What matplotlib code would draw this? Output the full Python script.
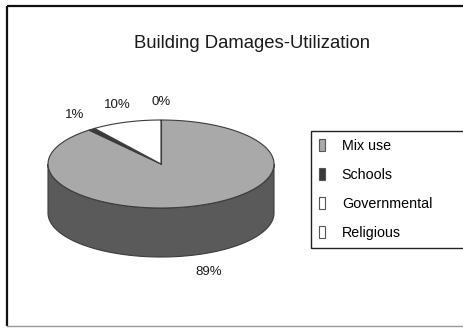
import numpy as np
import matplotlib
matplotlib.use("Agg")
import matplotlib.pyplot as plt
from matplotlib.patches import Polygon, Patch

plt.rcParams['font.family'] = ['Liberation Sans', 'DejaVu Sans']

title = "Building Damages-Utilization"
categories = ["Mix use", "Schools", "Governmental", "Religious"]
values = [89, 1, 10, 0]
top_colors = ["#a9a9a9", "#3a3a3a", "#ffffff", "#ffffff"]
side_colors = ["#5a5a5a", "#262626", "#d0d0d0", "#d0d0d0"]
edge = "#3c3c3c"

W, H = 464, 328
fig = plt.figure(figsize=(W / 100, H / 100), dpi=100)
ax = fig.add_axes([0, 0, 1, 1])
ax.set_xlim(0, W)
ax.set_ylim(H, 0)
ax.axis('off')

# outer frame (open on the right)
ax.plot([7, 7], [6, 326], color="#111111", lw=1.6, solid_capstyle='butt')
ax.plot([7, W + 10], [6, 6], color="#111111", lw=1.6, solid_capstyle='butt')
ax.plot([7, W + 10], [326, 326], color="#9a9a9a", lw=1.0)

ax.text(252, 43, title, ha='center', va='center', fontsize=13.3, color="#1a1a1a")

# 3D pie geometry (pixel space)
cx, cy, rx, ry, depth = 161, 164, 113, 44, 49

def pt(t, dz=0.0):
    return cx + rx * np.cos(t), cy - ry * np.sin(t) + dz

total = float(sum(values))
start = np.pi / 2
bounds = []
a = start
for v in values:
    b = a - 2 * np.pi * v / total
    bounds.append((b, a))  # counter-clockwise from b to a
    a = b

# sides (front half only: sin(t) < 0)
for (b, a), sc in zip(bounds, side_colors):
    if a - b <= 0:
        continue
    for k in range(-2, 2):
        lo = max(b, np.pi + 2 * np.pi * k)
        hi = min(a, 2 * np.pi + 2 * np.pi * k)
        if hi <= lo:
            continue
        ts = np.linspace(lo, hi, 200)
        topx, topy = pt(ts)
        botx, boty = pt(ts[::-1], depth)
        poly = np.column_stack([np.r_[topx, botx], np.r_[topy, boty]])
        ax.add_patch(Polygon(poly, closed=True, facecolor=sc, edgecolor=edge, lw=0.8, zorder=2))

# top faces
for (b, a), tc in zip(bounds, top_colors):
    if a - b <= 0:
        ax.plot([cx, pt(a)[0]], [cy, pt(a)[1]], color=edge, lw=0.8, zorder=4)
        continue
    ts = np.linspace(b, a, 300)
    x, y = pt(ts)
    poly = np.column_stack([np.r_[cx, x], np.r_[cy, y]])
    ax.add_patch(Polygon(poly, closed=True, facecolor=tc, edgecolor=edge, lw=0.8, zorder=3))

# percentage labels
for (b, a), v in zip(bounds, values):
    m = (a + b) / 2
    lx = cx + 1.24 * rx * np.cos(m)
    ly = cy - 1.42 * ry * np.sin(m)
    if np.sin(m) < 0:
        ly += depth
    ax.text(lx, ly, f"{v}%", ha='center', va='center', fontsize=9.5,
            color="#1a1a1a", zorder=5)

handles = [Patch(facecolor=tc, edgecolor="#555555", lw=0.8) for tc in top_colors]
leg = ax.legend(handles, categories, loc='upper left', mode='expand',
                bbox_to_anchor=(311 / W, 1 - 131 / H, 165 / W, 0.0),
                bbox_transform=fig.transFigure,
                fontsize=10.3, frameon=True, fancybox=False, framealpha=1,
                edgecolor="#222222", handlelength=0.4, handleheight=0.9,
                handletextpad=1.2, labelspacing=1.05, borderpad=0.55,
                borderaxespad=0)
leg.get_frame().set_linewidth(1.0)

fig.savefig("out.png", dpi=100)
